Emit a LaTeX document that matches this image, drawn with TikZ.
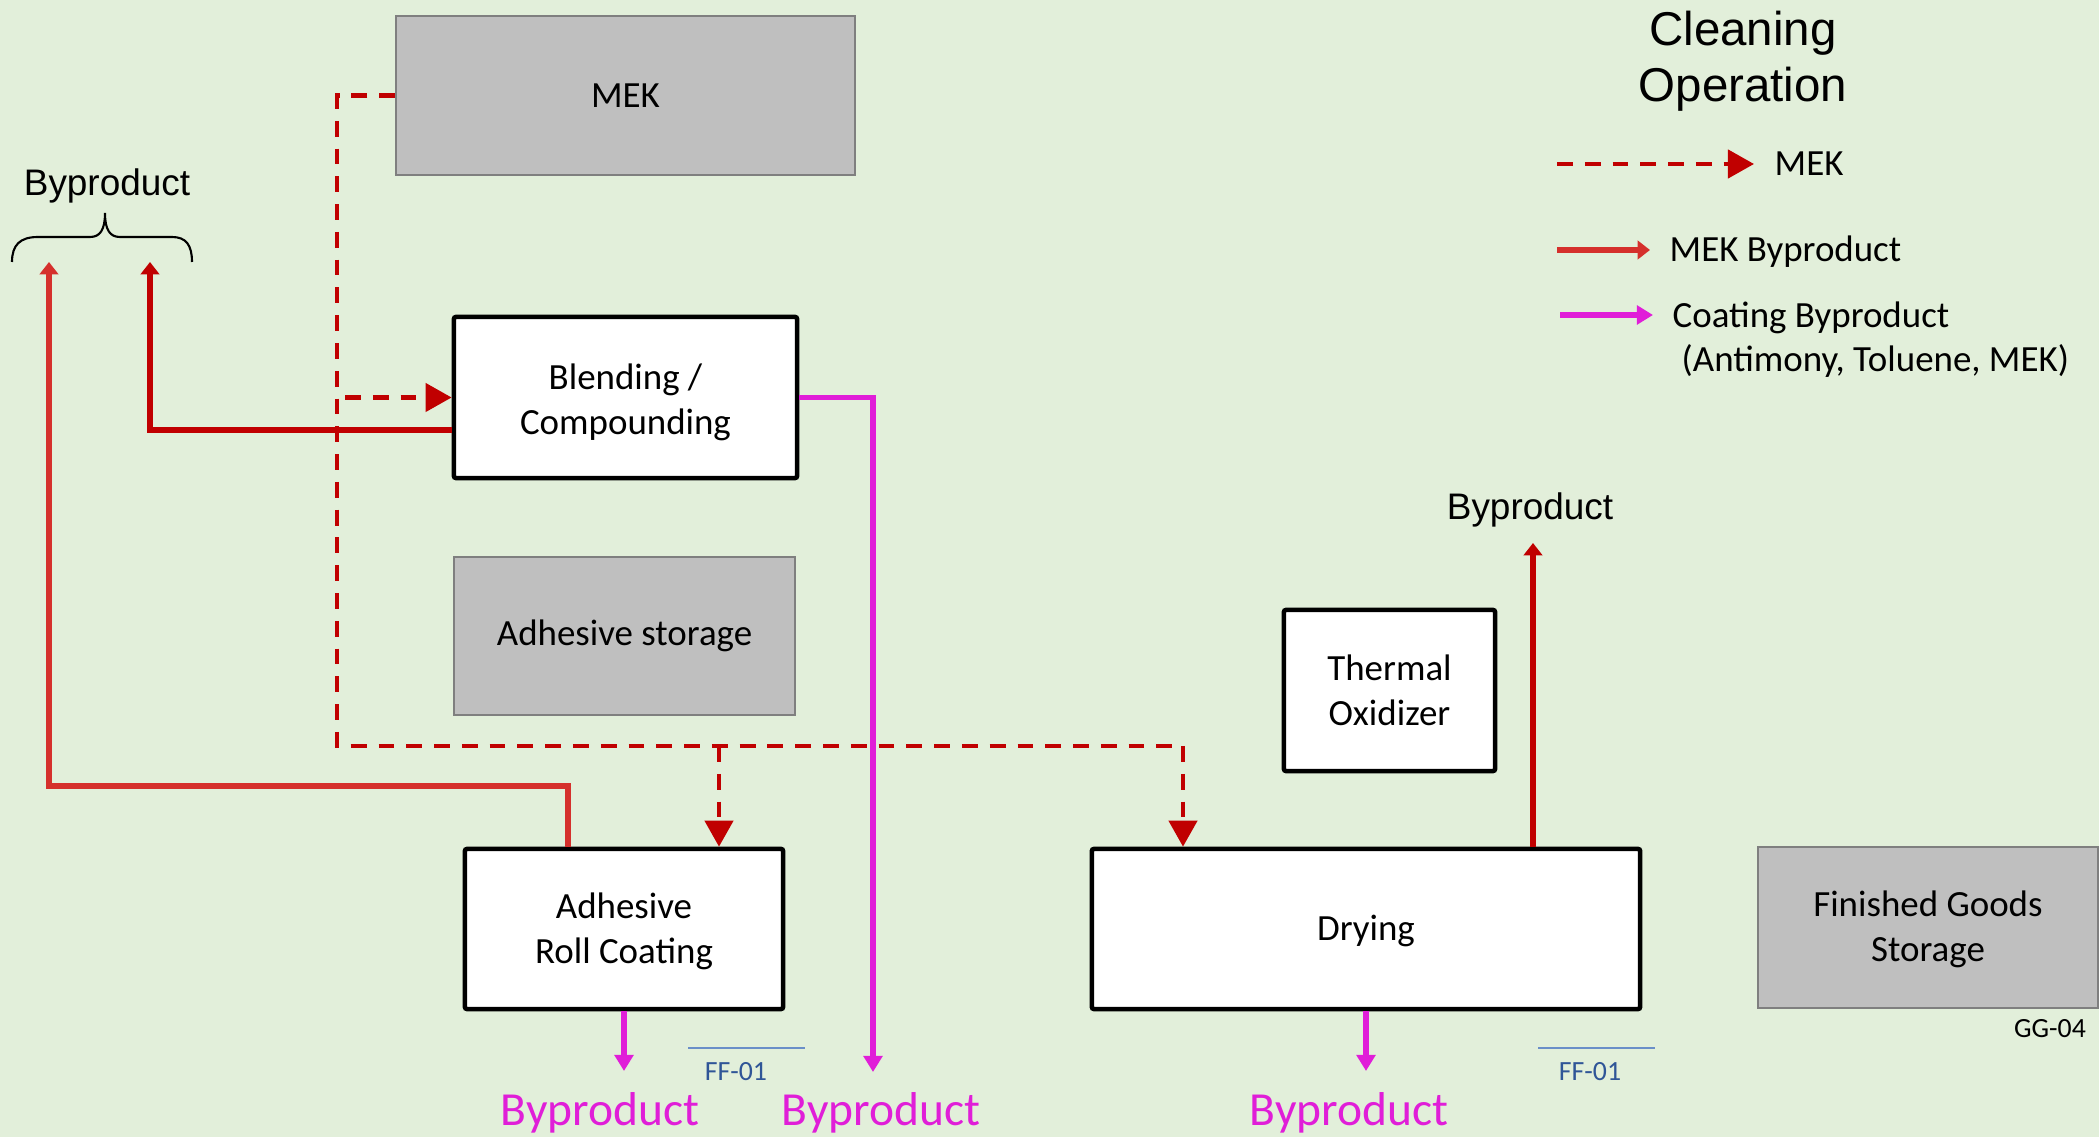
\documentclass[tikz,border=0pt]{standalone}
\usepackage{fontspec}
\setmainfont{Carlito}
\newfontfamily\arialfont{Liberation Sans}
\usetikzlibrary{arrows.meta,calc}
\definecolor{bg}{HTML}{E2EFDA}
\definecolor{boxgray}{HTML}{BFBFBF}
\definecolor{edgegray}{HTML}{7F7F7F}
\definecolor{mekred}{HTML}{C00000}
\definecolor{bylight}{HTML}{D5302C}
\definecolor{coat}{HTML}{E01ED8}
\definecolor{tagblue}{HTML}{2F5597}
\definecolor{tagline}{HTML}{6A8FC8}
\begin{document}
\begin{tikzpicture}[x=0.01cm,y=-0.01cm,
  txt/.style={font=\fontsize{10.5}{12.8}\selectfont},
  proc/.style={txt,draw=black,line width=1.3pt,fill=white,rounded corners=0.6pt,align=center,inner sep=0pt},
  store/.style={txt,draw=edgegray,line width=0.45pt,fill=boxgray,align=center,inner sep=0pt},
  mekflow/.style={draw=mekred,line width=1.15pt,dash pattern=on 4.5pt off 3.4pt},
  mektip/.style={-{Triangle[length=7.4pt,width=8pt]}},
  byflow/.style={line width=1.55pt,-{Triangle[length=3.5pt,width=5.2pt]}},
  coatflow/.style={draw=coat,line width=1.65pt,-{Triangle[length=4.6pt,width=5.3pt]}},
  outlabel/.style={font=\arialfont\fontsize{10.5}{12.8}\selectfont,inner sep=0pt},
  coatlabel/.style={font=\fontsize{13.5}{16}\selectfont,text=coat,inner sep=0pt},
  tag/.style={font=\fontsize{7.9}{9.5}\selectfont,inner sep=0pt},
  tagrule/.style={draw=tagline,line width=0.45pt}
]
% page and background
\fill[bg] (0,0) rectangle (2099,1137);
\useasboundingbox (0,0) rectangle (2099,1137);

% process blocks
\node[store,minimum width=4.59cm,minimum height=1.59cm] (mek) at (625.5,95.5) {MEK};
\node[proc,minimum width=3.43cm,minimum height=1.61cm] (blend) at (625.5,397.5) {};
\node[txt,align=center,inner sep=0pt] (blendtxt) at (625.5,402) {Blending /\\Compounding};
\node[store,minimum width=3.41cm,minimum height=1.58cm] (adst) at (624.5,636) {Adhesive storage};
\node[proc,minimum width=3.18cm,minimum height=1.60cm] (roll) at (624,929) {};
\node[txt,align=center,inner sep=0pt] (rolltxt) at (624,931) {Adhesive\\Roll Coating};
\node[proc,minimum width=2.11cm,minimum height=1.61cm] (tox) at (1389.5,690.5) {Thermal\\Oxidizer};
\node[proc,minimum width=5.48cm,minimum height=1.60cm] (dry) at (1366,929) {};
\node[txt,inner sep=0pt] (drytxt) at (1366,931) {Drying};
\node[store,minimum width=3.40cm,minimum height=1.61cm] (fgs) at (1928,927.5) {};
\node[txt,align=center,inner sep=0pt] (fgstxt) at (1928,929) {Finished Goods\\Storage};

% MEK supply (dashed)
\coordinate (m0) at (337,95.5);
\coordinate (m1) at (337,746);
\coordinate (m2) at (1183,746);
\coordinate (mb) at (345,397.5);
\coordinate (mr) at (719,746);
\draw[mekflow] (mek.west) -- (m0) -- (m1) -- (m2);
\draw[mekflow,mektip] (mb) -- (blend.west);
\draw[mekflow,mektip] (mr) -- (mr |- roll.north);
\draw[mekflow,mektip] (m2) -- (m2 |- dry.north);

% MEK byproduct outlets
\node[outlabel,anchor=base] (bpl) at (107,196) {Byproduct};
\draw[line width=0.6pt] (12,262) .. controls (12,245) and (20,237) .. (38,237) -- (90,237)
  .. controls (100,237) and (105,230) .. (105,213)
  .. controls (105,230) and (110,237) .. (120,237) -- (172,237)
  .. controls (186,237) and (192,245) .. (192,262);
\coordinate (bx) at (150,262);
\coordinate (rx) at (568,0);
\coordinate (r1) at (568,786);
\coordinate (r2) at (49,786);
\coordinate (r3) at (49,262);
\draw[byflow,draw=mekred] ($(blend.west)+(0,32.5)$) -- (bx |- 0,430) -- (bx);
\draw[byflow,draw=bylight] (rx |- roll.north) -- (r1) -- (r2) -- (r3);

\node[outlabel,anchor=base] (bpr) at (1530,520) {Byproduct};
\coordinate (dx) at (1533,543);
\draw[byflow,draw=mekred] (dx |- dry.north) -- (dx);

% coating byproduct outlets
\node[coatlabel,anchor=base] (cb1) at (600,1126) {Byproduct};
\node[coatlabel,anchor=base] (cb2) at (881,1126) {Byproduct};
\node[coatlabel,anchor=base] (cb3) at (1349,1126) {Byproduct};
\coordinate (c1) at (873,397.5);
\coordinate (c2) at (873,1072);
\draw[coatflow] (blend.east) -- (c1) -- (c2);
\draw[coatflow] (roll.south) -- (roll.south |- 0,1071);
\draw[coatflow] (dry.south) -- (dry.south |- 0,1071);

% sheet tags
\coordinate (t1a) at (688,1048); \coordinate (t1b) at (805,1048);
\coordinate (t2a) at (1538,1048); \coordinate (t2b) at (1655,1048);
\draw[tagrule] (t1a) -- (t1b);
\draw[tagrule] (t2a) -- (t2b);
\node[tag,text=tagblue] (ff1) at (736,1072) {FF-01};
\node[tag,text=tagblue] (ff2) at (1590,1072) {FF-01};
\node[tag] (gg) at (2050,1029) {GG-04};

% legend
\node[font=\arialfont\fontsize{13.5}{16}\selectfont,align=center,inner sep=0pt] (title) at (1743,61) {Cleaning\\Operation};
\coordinate (l1a) at (1557,164); \coordinate (l1b) at (1754,164);
\draw[mekflow,mektip] (l1a) -- (l1b);
\node[txt,anchor=west,inner sep=0pt] (l1t) at (1774,164) {MEK};
\coordinate (l2a) at (1557,250); \coordinate (l2b) at (1650,250);
\draw[byflow,draw=bylight] (l2a) -- (l2b);
\node[txt,anchor=base west,inner sep=0pt] (l2t) at (1669,262) {MEK Byproduct};
\coordinate (l3a) at (1560,315); \coordinate (l3b) at (1653,315);
\draw[coatflow] (l3a) -- (l3b);
\node[txt,anchor=base west,inner sep=0pt] (l3t) at (1672,328) {Coating Byproduct};
\node[txt,anchor=base west,inner sep=0pt] (l3u) at (1681,372) {(Antimony, Toluene, MEK)};
\end{tikzpicture}
\end{document}
